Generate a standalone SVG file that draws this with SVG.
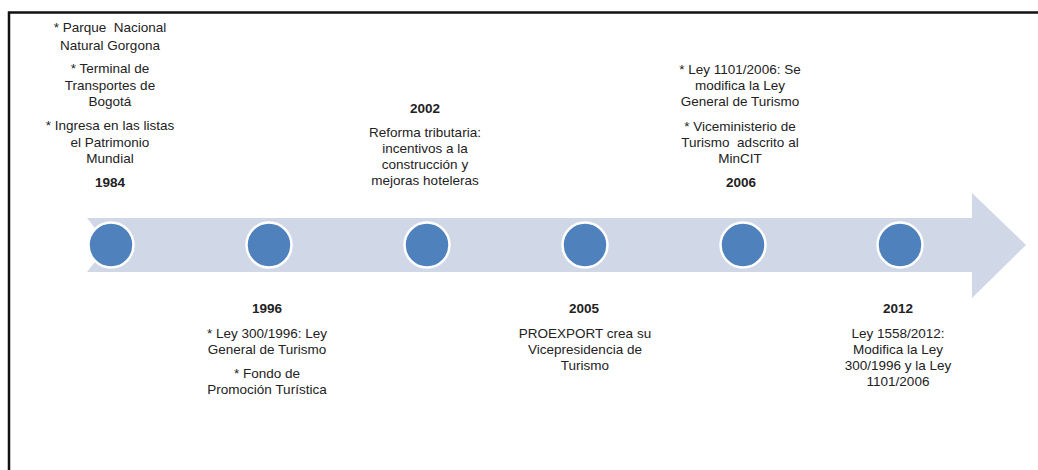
<svg xmlns="http://www.w3.org/2000/svg" width="1038" height="470" viewBox="0 0 1038 470">
<style>
text{font-family:"Liberation Sans",Arial,sans-serif;font-size:13.5px;fill:#222;text-anchor:middle;white-space:pre}
.yr{font-weight:bold}
.dot{fill:#4F81BD;stroke:#fff;stroke-width:2.5}
.frame{stroke:#111;stroke-width:2.5;fill:none}
</style>
<rect width="1038" height="470" fill="#fff"/>
<path class="frame" d="M9,470 V12.5 H1038"/>
<g id="timeline">
<polygon points="87,218 972,218 972,193 1026,245 972,298 972,272 87,272 108,245" fill="#D0D7E6"/>
</g>
<g id="connectors"></g>
<g id="n1984">
<circle class="dot" cx="111" cy="245" r="22.5"/>
<text x="110" y="32" xml:space="preserve">* Parque  Nacional</text>
<text x="110" y="50">Natural Gorgona</text>
<text x="110" y="73">* Terminal de</text>
<text x="110" y="90">Transportes de</text>
<text x="110" y="106">Bogotá</text>
<text x="110" y="130">* Ingresa en las listas</text>
<text x="110" y="147">el Patrimonio</text>
<text x="110" y="163">Mundial</text>
<text class="yr" x="110" y="187">1984</text>
</g>
<g id="n1996">
<circle class="dot" cx="269" cy="245" r="22.5"/>
<text class="yr" x="267" y="313">1996</text>
<text x="267" y="338">* Ley 300/1996: Ley</text>
<text x="267" y="354">General de Turismo</text>
<text x="267" y="378">* Fondo de</text>
<text x="267" y="394">Promoción Turística</text>
</g>
<g id="n2002">
<circle class="dot" cx="427" cy="245" r="22.5"/>
<text class="yr" x="425" y="113">2002</text>
<text x="425" y="137">Reforma tributaria:</text>
<text x="425" y="153">incentivos a la</text>
<text x="425" y="169">construcción y</text>
<text x="425" y="185">mejoras hoteleras</text>
</g>
<g id="n2005">
<circle class="dot" cx="585" cy="245" r="22.5"/>
<text class="yr" x="584" y="313">2005</text>
<text x="585" y="338">PROEXPORT crea su</text>
<text x="585" y="354">Vicepresidencia de</text>
<text x="585" y="370">Turismo</text>
</g>
<g id="n2006">
<circle class="dot" cx="743" cy="245" r="22.5"/>
<text x="740" y="74">* Ley 1101/2006: Se</text>
<text x="740" y="90">modifica la Ley</text>
<text x="740" y="106">General de Turismo</text>
<text x="740" y="131">* Viceministerio de</text>
<text x="740" y="147" xml:space="preserve">Turismo  adscrito al</text>
<text x="740" y="163">MinCIT</text>
<text class="yr" x="741" y="187">2006</text>
</g>
<g id="n2012">
<circle class="dot" cx="900" cy="245" r="22.5"/>
<text class="yr" x="898" y="313">2012</text>
<text x="898" y="338">Ley 1558/2012:</text>
<text x="898" y="354">Modifica la Ley</text>
<text x="898" y="370">300/1996 y la Ley</text>
<text x="898" y="386">1101/2006</text>
</g>
</svg>
